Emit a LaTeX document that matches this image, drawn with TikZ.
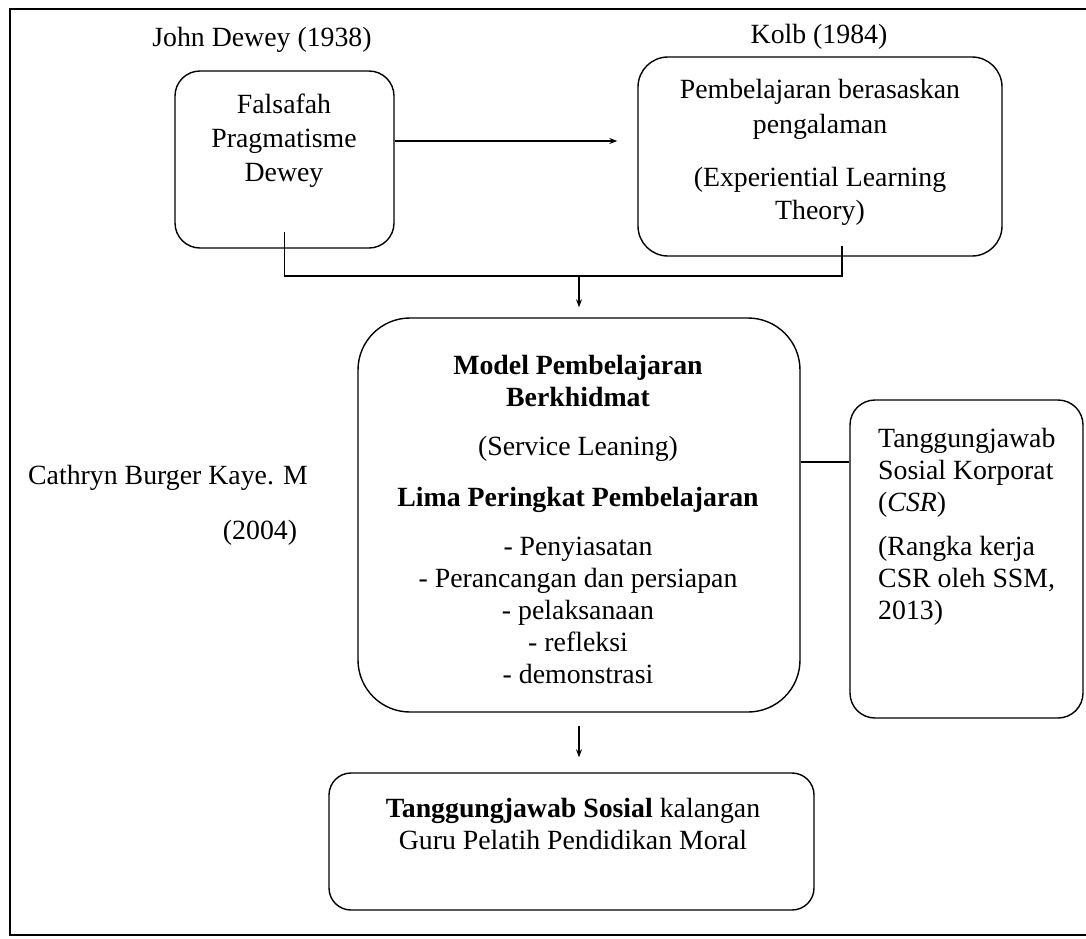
\documentclass[tikz,border=0pt]{standalone}
\usepackage{fontspec}
\setmainfont{Liberation Serif}
\usetikzlibrary{arrows.meta, positioning}

\begin{document}
\begin{tikzpicture}[x=1pt, y=-1pt,
    box/.style={draw, line width=1.4pt, rounded corners=#1, inner sep=0pt},
    box/.default=25pt,
    txt/.style={font=\fontsize{27.8}{32}\selectfont, align=center, inner sep=0pt},
    link/.style={line width=1.2pt},
    arr/.style={link, -{Stealth[length=8pt, width=6pt]}}]
    \useasboundingbox (0,0) rectangle (1086,938);
    % outer frame
    \draw[line width=1.4pt] (10,9) rectangle (1100,935);

    % Dewey
    \node[txt] (dewey) at (262,40) {John Dewey (1938)};
    \node[box, minimum width=219pt, minimum height=177pt] (fal) at (284.5,159.5) {};
    \node[txt] (faltxt) at (284,141) {Falsafah\\[2pt]Pragmatisme\\[2pt]Dewey};

    % Kolb
    \node[txt] (kolbyr) at (819,37) {Kolb (1984)};
    \node[box=30pt, minimum width=364pt, minimum height=199pt] (kolb) at (820,156.5) {};
    \node[txt] (kolbtxt) at (820,152.5) {Pembelajaran berasaskan\\[3pt]pengalaman\\[21pt](Experiential Learning\\[1pt]Theory)};

    % Service learning model
    \node[box=52pt, minimum width=442pt, minimum height=394pt] (main) at (579,515) {};
    \node[txt] (maintxt) at (578,519) {\textbf{Model Pembelajaran}\\\textbf{Berkhidmat}\\[17pt](Service Leaning)\\[19pt]\textbf{Lima Peringkat Pembelajaran}\\[17pt]- Penyiasatan\\- Perancangan dan persiapan\\- pelaksanaan\\- refleksi\\- demonstrasi};

    % Kaye
    \node[txt, anchor=west] (kaye) at (28,478) {Cathryn Burger Kaye. M};
    \node[txt] (kayeyr) at (260,533) {(2004)};

    % CSR
    \node[box, minimum width=233pt, minimum height=318pt] (csr) at (966.5,559) {};
    \node[txt, anchor=west, align=left] (csrtxt) at (878,527) {Tanggungjawab\\Sosial Korporat\\(\textit{CSR})\\[12pt](Rangka kerja\\CSR oleh SSM,\\2013)};

    % Outcome
    \node[box=22pt, minimum width=485pt, minimum height=137pt] (res) at (571.5,841.5) {};
    \node[txt] (restxt) at (573,824) {\textbf{Tanggungjawab Sosial} kalangan\\Guru Pelatih Pendidikan Moral};

    % Connectors
    \coordinate (joinY) at (0,276);
    \coordinate (csrY) at (0,462);
    \coordinate (falstub) at ([yshift=17pt]fal.south);
    \coordinate (kolbstub) at ([xshift=22pt, yshift=11pt]kolb.south);
    \draw[arr, shorten >=20pt] (fal.east |- faltxt) -- (kolb.west |- faltxt);
    \draw[link] (falstub) -- (falstub |- joinY) -- (kolbstub |- joinY) -- (kolbstub);
    \draw[arr, shorten >=10pt] (main.north |- joinY) -- (main.north);
    \draw[link] (main.east |- csrY) -- (csr.west |- csrY);
    \draw[arr, shorten <=13pt, shorten >=15pt] (main.south) -- (main.south |- res.north);
\end{tikzpicture}
\end{document}
